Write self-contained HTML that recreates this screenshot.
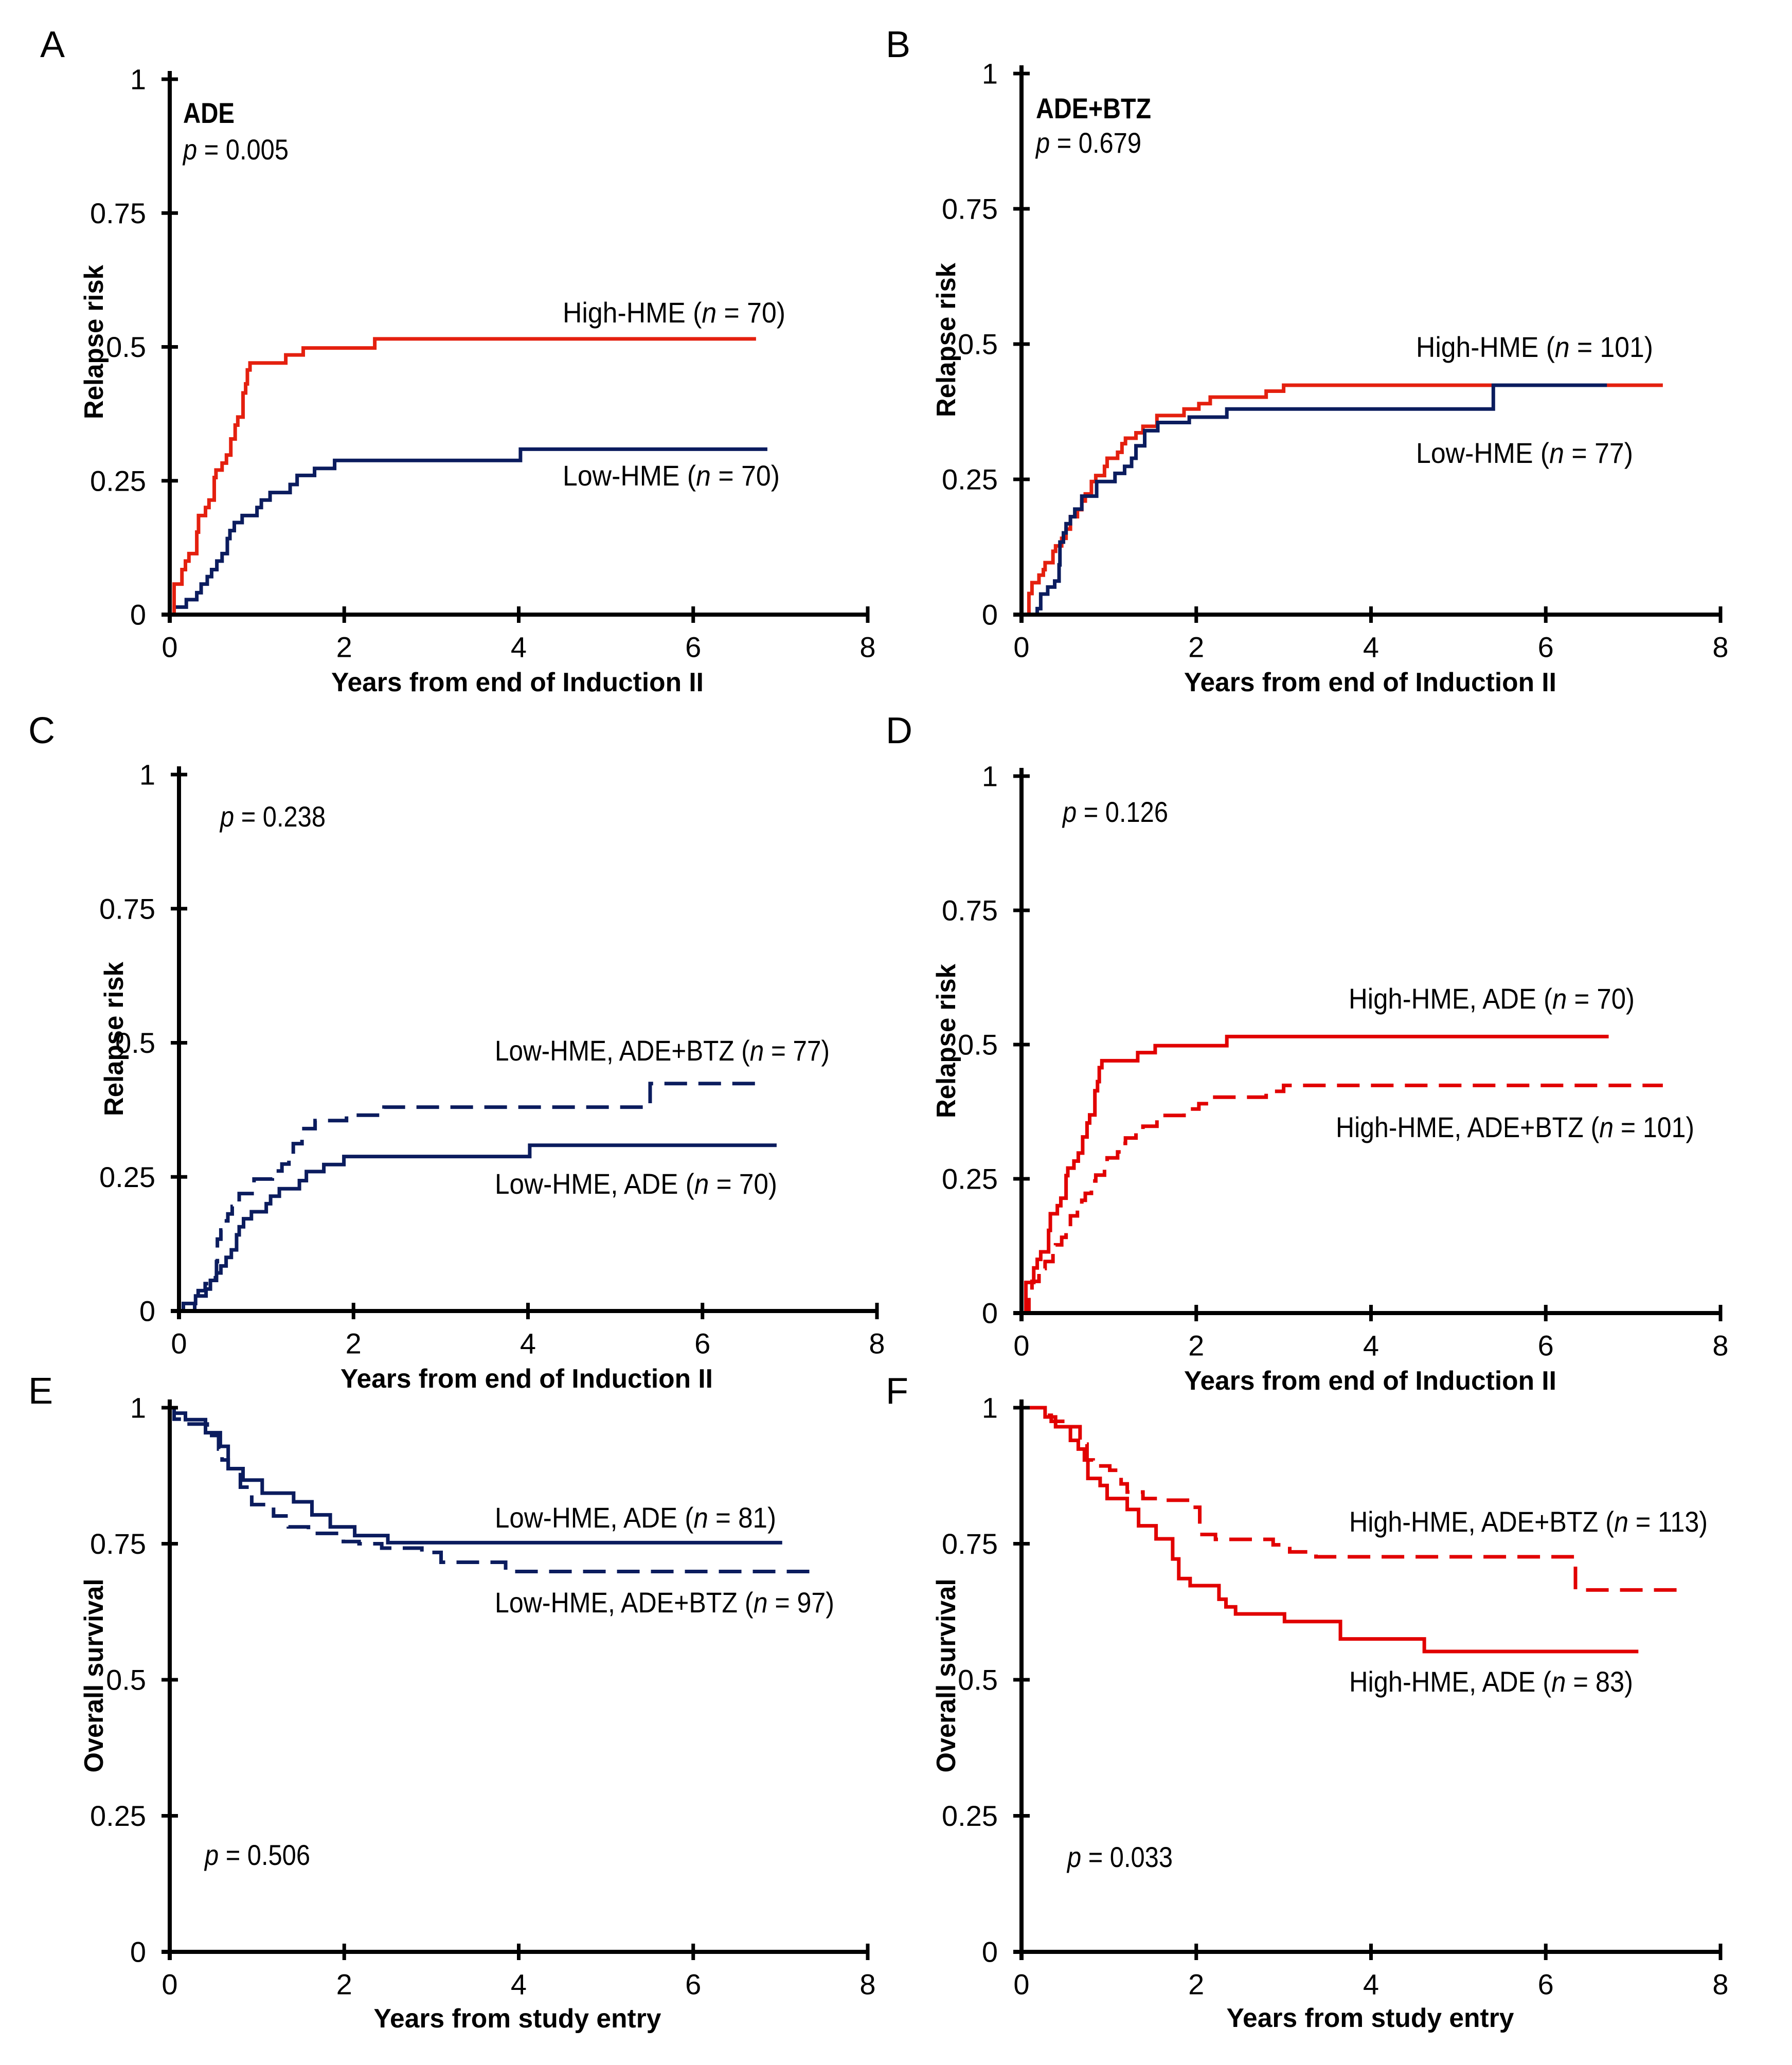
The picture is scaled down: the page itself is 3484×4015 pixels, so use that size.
<!DOCTYPE html>
<html><head><meta charset="utf-8"><style>
html,body{margin:0;padding:0;background:#fff}
svg{display:block}
text{font-family:"Liberation Sans",sans-serif}
.tk{font-family:"Liberation Sans Narrow","Liberation Sans",sans-serif;font-size:56px}
.ax{font-weight:bold;font-size:52px}
.an{font-size:56px}
.lt{font-size:72px}
</style></head><body>
<svg id="fig" width="3484" height="4015" viewBox="0 0 3484 4015" xmlns="http://www.w3.org/2000/svg"></svg>
<script>
// ---- data ----
const xTicks = [0, 2, 4, 6, 8];
const yTicks = [0, 0.25, 0.5, 0.75, 1];
const yTickLabels = ["0", "0.25", "0.5", "0.75", "1"];

// Low-HME ADE relapse (n=70)
const lowAdeT = [0.05,0.19,0.31,0.36,0.43,0.48,0.54,0.6,0.66,0.69,0.74,0.83,1.0,1.05,1.15,1.38,1.46,1.66,1.89,4.02];
const lowAdeV = [0.014,0.028,0.041,0.057,0.071,0.084,0.1,0.114,0.142,0.157,0.172,0.185,0.2,0.214,0.228,0.243,0.26,0.273,0.288,0.309];
const lowAdeEnd = 6.85;
// High-HME ADE relapse (n=70)
const highAdeT = [0.05,0.14,0.18,0.22,0.31,0.33,0.41,0.45,0.51,0.53,0.6,0.65,0.7,0.75,0.78,0.84,0.87,0.89,0.92,1.33,1.53,2.35];
const highAdeV = [0.057,0.084,0.1,0.114,0.154,0.185,0.2,0.214,0.256,0.27,0.283,0.298,0.328,0.354,0.369,0.414,0.431,0.457,0.47,0.485,0.498,0.515];
const highAdeEnd = 6.72;
// High-HME ADE+BTZ relapse (n=101)
const highBtzT = [0.085,0.12,0.2,0.25,0.27,0.36,0.39,0.46,0.51,0.56,0.64,0.69,0.73,0.8,0.85,0.95,0.98,1.1,1.15,1.19,1.31,1.39,1.55,1.86,2.03,2.16,2.8,3.0];
const highBtzV = [0.039,0.059,0.073,0.083,0.096,0.117,0.127,0.141,0.158,0.181,0.194,0.21,0.223,0.246,0.257,0.274,0.289,0.3,0.316,0.326,0.336,0.348,0.368,0.38,0.39,0.402,0.413,0.424];
const highBtzEnd = 7.34;
// Low-HME ADE+BTZ relapse (n=77)
const lowBtzT = [0.18,0.22,0.3,0.38,0.43,0.44,0.48,0.51,0.56,0.61,0.69,0.86,1.07,1.18,1.26,1.31,1.41,1.56,1.92,2.35,5.4];
const lowBtzV = [0.011,0.038,0.051,0.062,0.092,0.134,0.151,0.168,0.181,0.195,0.219,0.246,0.261,0.274,0.289,0.312,0.34,0.355,0.365,0.38,0.424];
const lowBtzEnd = 6.7;
// OS Low-HME ADE (n=81)
const osLowAdeT = [0.05,0.18,0.41,0.58,0.67,0.84,1.06,1.42,1.63,1.84,2.12,2.5];
const osLowAdeV = [0.99,0.978,0.954,0.929,0.888,0.867,0.843,0.827,0.803,0.781,0.765,0.752];
const osLowAdeEnd = 7.02;
// OS Low-HME ADE+BTZ (n=97)
const osLowBtzT = [0.05,0.14,0.43,0.56,0.6,0.67,0.81,0.94,1.19,1.36,1.59,1.99,2.17,2.43,2.89,3.11,3.85];
const osLowBtzV = [0.979,0.97,0.949,0.924,0.904,0.888,0.854,0.822,0.801,0.781,0.769,0.754,0.75,0.742,0.734,0.716,0.699];
const osLowBtzEnd = 7.46;
// OS High-HME ADE (n=83)
const osHighAdeT = [0.27,0.39,0.56,0.65,0.72,0.76,0.9,0.98,1.21,1.34,1.54,1.73,1.8,1.93,2.26,2.34,2.45,3.01,3.65,4.61];
const osHighAdeV = [0.983,0.965,0.94,0.924,0.904,0.87,0.857,0.833,0.813,0.783,0.759,0.722,0.686,0.673,0.648,0.634,0.621,0.607,0.575,0.552];
const osHighAdeEnd = 7.06;
// OS High-HME ADE+BTZ (n=113)
const osHighBtzT = [0.29,0.34,0.52,0.67,0.75,0.82,1.01,1.14,1.21,1.39,1.64,1.93,2.04,2.22,2.88,3.07,3.37,6.34];
const osHighBtzV = [0.986,0.975,0.965,0.933,0.904,0.893,0.885,0.86,0.845,0.833,0.83,0.817,0.767,0.758,0.748,0.735,0.726,0.665];
const osHighBtzEnd = 7.57;

const NAVY = "#0b1c5e", RED1 = "#e4200f", RED2 = "#e10000";
const NS = "http://www.w3.org/2000/svg";
const svg = document.getElementById("fig");
function mk(tag, attrs, parent, txt) {
  const e = document.createElementNS(NS, tag);
  for (const k in attrs) e.setAttribute(k, attrs[k]);
  if (txt !== undefined) e.textContent = txt;
  (parent || svg).appendChild(e);
  return e;
}
function richText(parent, x, y, parts, cls, len, name) {
  const t = mk("text", {x: x, y: y, "class": cls, "dominant-baseline": "central"}, parent);
  
  
  if (len) { t.setAttribute("textLength", len); t.setAttribute("lengthAdjust", "spacingAndGlyphs"); }
  parts.forEach(p => {
    const s = mk("tspan", {}, t, p[0]);
    if (p[1] === "i") s.setAttribute("font-style", "italic");
    if (p[1] === "b") s.setAttribute("font-weight", "bold");
  });
  return t;
}

function panel(cfg) {
  const g = mk("g", {});
  
  
  const X = t => cfg.x0 + (cfg.x8 - cfg.x0) * t / 8;
  const Y = v => cfg.y0 - (cfg.y0 - cfg.y1) * v;
  cfg.series.forEach(s => {
    let d = "M" + X(0) + " " + Y(s.start);
    for (let i = 0; i < s.t.length; i++) d += " H" + X(s.t[i]) + " V" + Y(s.v[i]);
    d += " H" + X(s.end);
    const p = mk("path", {d: d, fill: "none", stroke: s.color, "stroke-width": 7, "stroke-linejoin": "miter"}, g);
    if (s.dash) p.setAttribute("stroke-dasharray", "44 22");
    
    
  });
  const ya = mk("line", {x1: X(0), x2: X(0), y1: Y(1) - 16, y2: Y(0) + 16, stroke: "#000", "stroke-width": 8}, g);
  
  
  const xa = mk("line", {x1: X(0) - 16, x2: X(8) + 3, y1: Y(0), y2: Y(0), stroke: "#000", "stroke-width": 8}, g);
  
  
  yTicks.forEach((v, i) => {
    const tk = mk("line", {x1: X(0) - 16, x2: X(0) + 16, y1: Y(v), y2: Y(v), stroke: "#000", "stroke-width": 7}, g);
    
    
    const lb = mk("text", {x: X(0) - 46, y: Y(v), "class": "tk", "text-anchor": "end", "dominant-baseline": "central"}, g, yTickLabels[i]);
    
    
  });
  xTicks.forEach(t => {
    const tk = mk("line", {x1: X(t), x2: X(t), y1: Y(0) - 16, y2: Y(0) + 16, stroke: "#000", "stroke-width": 7}, g);
    
    
    const lb = mk("text", {x: X(t), y: Y(0) + 63, "class": "tk", "text-anchor": "middle", "dominant-baseline": "central"}, g, String(t));
    
    
  });
  const yt = mk("text", {x: 0, y: 0, "class": "ax", "text-anchor": "middle", "dominant-baseline": "central",
    transform: "translate(" + cfg.ytx + "," + cfg.yty + ") rotate(-90)", textLength: cfg.ytLen, lengthAdjust: "spacingAndGlyphs"}, g, cfg.ytitle);
  
  
  const xt = mk("text", {x: cfg.xtx, y: cfg.xty, "class": "ax", "text-anchor": "middle", "dominant-baseline": "central",
    textLength: cfg.xtLen, lengthAdjust: "spacingAndGlyphs"}, g, cfg.xtitle);
  
  
  const L = mk("text", {x: cfg.lx, y: cfg.ly, "class": "lt", "dominant-baseline": "central"}, g, cfg.letter);
  
  
  cfg.notes.forEach(n => richText(g, n[0], n[1], n[2], "an", n[3], n[4]));
}

const YR = "Years from end of Induction II", YS = "Years from study entry";
panel({name: "panel-a", letter: "A", lx: 78, ly: 87, x0: 330, x8: 1687, y1: 154, y0: 1195,
  ytitle: "Relapse risk", ytx: 183, yty: 665, ytLen: 300, xtitle: YR, xtx: 1006, xty: 1327, xtLen: 724,
  series: [
    {name: "low-hme-ade-line", t: lowAdeT, v: lowAdeV, end: lowAdeEnd, start: 0, color: NAVY},
    {name: "high-hme-ade-line", t: highAdeT, v: highAdeV, end: highAdeEnd, start: 0, color: RED1}],
  notes: [[356, 219, [["ADE", "b"]], 100, "treatment-label"],
    [356, 290, [["p", "i"], [" = 0.005"]], 205, "p-value"],
    [1094, 607, [["High-HME ("], ["n", "i"], [" = 70)"]], 433, "high-hme-label"],
    [1094, 924, [["Low-HME ("], ["n", "i"], [" = 70)"]], 422, "low-hme-label"]]});
panel({name: "panel-b", letter: "B", lx: 1722, ly: 87, x0: 1986, x8: 3345, y1: 143, y0: 1195,
  ytitle: "Relapse risk", ytx: 1840, yty: 661, ytLen: 300, xtitle: YR, xtx: 2664, xty: 1327, xtLen: 724,
  series: [
    {name: "high-hme-ade-btz-line", t: highBtzT, v: highBtzV, end: highBtzEnd, start: 0, color: RED1},
    {name: "low-hme-ade-btz-line", t: lowBtzT, v: lowBtzV, end: lowBtzEnd, start: 0, color: NAVY}],
  notes: [[2014, 210, [["ADE+BTZ", "b"]], 224, "treatment-label"],
    [2014, 277, [["p", "i"], [" = 0.679"]], 205, "p-value"],
    [2753, 674, [["High-HME ("], ["n", "i"], [" = 101)"]], 461, "high-hme-label"],
    [2753, 880, [["Low-HME ("], ["n", "i"], [" = 77)"]], 422, "low-hme-label"]]});
panel({name: "panel-c", letter: "C", lx: 55, ly: 1421, x0: 348, x8: 1705, y1: 1506, y0: 2549,
  ytitle: "Relapse risk", ytx: 222, yty: 2020, ytLen: 300, xtitle: YR, xtx: 1024, xty: 2681, xtLen: 724,
  series: [
    {name: "low-hme-ade-btz-dashed", t: lowBtzT, v: lowBtzV, end: lowBtzEnd, start: 0, color: NAVY, dash: true},
    {name: "low-hme-ade-solid", t: lowAdeT, v: lowAdeV, end: lowAdeEnd, start: 0, color: NAVY}],
  notes: [[428, 1587, [["p", "i"], [" = 0.238"]], 205, "p-value"],
    [962, 2042, [["Low-HME, ADE+BTZ ("], ["n", "i"], [" = 77)"]], 651, "dashed-label"],
    [962, 2301, [["Low-HME, ADE ("], ["n", "i"], [" = 70)"]], 549, "solid-label"]]});
panel({name: "panel-d", letter: "D", lx: 1722, ly: 1421, x0: 1986, x8: 3345, y1: 1509, y0: 2553,
  ytitle: "Relapse risk", ytx: 1840, yty: 2024, ytLen: 300, xtitle: YR, xtx: 2664, xty: 2685, xtLen: 724,
  series: [
    {name: "high-hme-ade-btz-dashed", t: highBtzT, v: highBtzV, end: highBtzEnd, start: 0, color: RED2, dash: true},
    {name: "high-hme-ade-solid", t: highAdeT, v: highAdeV, end: highAdeEnd, start: 0, color: RED2}],
  notes: [[2066, 1578, [["p", "i"], [" = 0.126"]], 205, "p-value"],
    [2622, 1941, [["High-HME, ADE ("], ["n", "i"], [" = 70)"]], 556, "solid-label"],
    [2597, 2191, [["High-HME, ADE+BTZ ("], ["n", "i"], [" = 101)"]], 697, "dashed-label"]]});
panel({name: "panel-e", letter: "E", lx: 55, ly: 2705, x0: 330, x8: 1687, y1: 2737, y0: 3795,
  ytitle: "Overall survival", ytx: 183, yty: 3258, ytLen: 377, xtitle: YS, xtx: 1006, xty: 3925, xtLen: 559,
  series: [
    {name: "low-hme-ade-btz-dashed", t: osLowBtzT, v: osLowBtzV, end: osLowBtzEnd, start: 1, color: NAVY, dash: true},
    {name: "low-hme-ade-solid", t: osLowAdeT, v: osLowAdeV, end: osLowAdeEnd, start: 1, color: NAVY}],
  notes: [[398, 3606, [["p", "i"], [" = 0.506"]], 205, "p-value"],
    [962, 2950, [["Low-HME, ADE ("], ["n", "i"], [" = 81)"]], 547, "solid-label"],
    [962, 3115, [["Low-HME, ADE+BTZ ("], ["n", "i"], [" = 97)"]], 660, "dashed-label"]]});
panel({name: "panel-f", letter: "F", lx: 1722, ly: 2705, x0: 1986, x8: 3345, y1: 2737, y0: 3795,
  ytitle: "Overall survival", ytx: 1840, yty: 3258, ytLen: 377, xtitle: YS, xtx: 2664, xty: 3924, xtLen: 559,
  series: [
    {name: "high-hme-ade-btz-dashed", t: osHighBtzT, v: osHighBtzV, end: osHighBtzEnd, start: 1, color: RED2, dash: true},
    {name: "high-hme-ade-solid", t: osHighAdeT, v: osHighAdeV, end: osHighAdeEnd, start: 1, color: RED2}],
  notes: [[2075, 3610, [["p", "i"], [" = 0.033"]], 205, "p-value"],
    [2623, 2958, [["High-HME, ADE+BTZ ("], ["n", "i"], [" = 113)"]], 697, "dashed-label"],
    [2623, 3269, [["High-HME, ADE ("], ["n", "i"], [" = 83)"]], 552, "solid-label"]]});
</script>
</body></html>
